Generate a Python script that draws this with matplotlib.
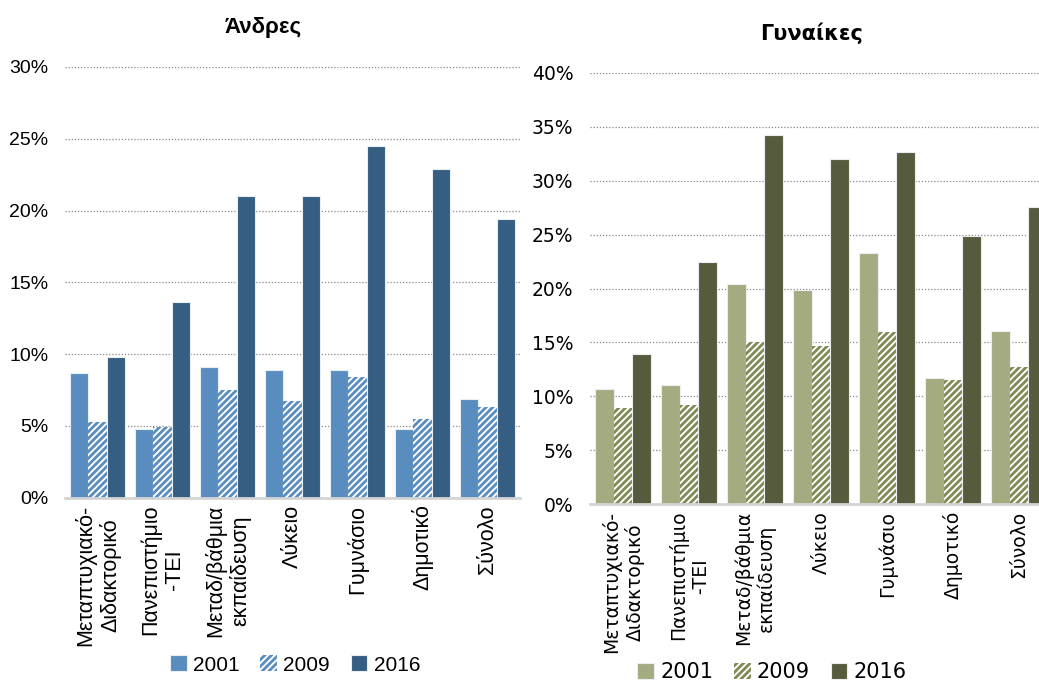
import numpy as np
import matplotlib
matplotlib.use("Agg")
import matplotlib.pyplot as plt
from matplotlib.ticker import PercentFormatter

categories = ["Μεταπτυχιακό-\nΔιδακτορικό", "Πανεπιστήμιο\n-ΤΕΙ", "Μεταδ/βάθμια\nεκπαίδευση",
              "Λύκειο", "Γυμνάσιο", "Δημοτικό", "Σύνολο"]
years = ["2001", "2009", "2016"]

men_2001 = [8.7, 4.8, 9.1, 8.9, 8.9, 4.8, 6.9]
men_2009 = [5.3, 4.9, 7.5, 6.7, 8.4, 5.5, 6.3]
men_2016 = [9.8, 13.6, 21.0, 21.0, 24.5, 22.9, 19.4]

women_2001 = [10.7, 11.0, 20.4, 19.9, 23.3, 11.7, 16.1]
women_2009 = [8.9, 9.2, 15.0, 14.7, 16.0, 11.5, 12.7]
women_2016 = [13.9, 22.5, 34.2, 32.0, 32.7, 24.9, 27.6]

plt.rcParams["hatch.linewidth"] = 2.0

W, H = 1039, 682
fig = plt.figure(figsize=(W / 100, H / 100), dpi=100)


def panel(rect, series, colors, ymax, title, title_pos, font, sizes, legend_pos):
    tick_fs, cat_fs, title_fs, leg_fs = sizes
    ax = fig.add_axes(rect)
    x = np.arange(len(categories))
    bw = 0.28
    for i, (vals, col) in enumerate(zip(series, colors)):
        if i == 1:
            ax.bar(x + (i - 1) * bw, vals, bw, facecolor="white", edgecolor=col,
                   hatch="/////", linewidth=0, label=years[i], zorder=2)
        else:
            ax.bar(x + (i - 1) * bw, vals, bw, color=col, edgecolor="#e8eef2",
                   linewidth=0.8, label=years[i], zorder=2)
    ax.set_xlim(-0.5, len(categories) - 0.5)
    ax.set_ylim(0, ymax)
    ax.set_yticks(np.arange(0, ymax + 0.1, 5))
    ax.yaxis.set_major_formatter(PercentFormatter(decimals=0))
    ax.grid(axis="y", linestyle=(0, (1, 1.5)), color="#888888", linewidth=0.9, zorder=0)
    for s in ["left", "right", "top"]:
        ax.spines[s].set_visible(False)
    ax.spines["bottom"].set_color("#d4d4d4")
    ax.spines["bottom"].set_linewidth(2)
    ax.tick_params(axis="y", length=0, labelsize=tick_fs, pad=12)
    ax.tick_params(axis="x", length=0, labelsize=cat_fs, pad=5)
    ax.set_xticks(x)
    ax.set_xticklabels(categories, rotation=90, va="top", ha="center",
                       multialignment="center")
    plt.setp(ax.get_xticklabels(), family=font, fontsize=cat_fs)
    plt.setp(ax.get_yticklabels(), family=font, fontsize=tick_fs)
    fig.text(title_pos[0], title_pos[1], title, ha="center", va="center",
             fontsize=title_fs, fontweight="bold", family=font)
    ax.legend(loc="center", bbox_to_anchor=legend_pos,
              bbox_transform=fig.transFigure, ncol=3, frameon=False,
              handlelength=0.8, handleheight=0.8, handletextpad=0.3,
              columnspacing=1.0, prop={"family": font, "size": leg_fs})
    return ax


panel([65 / W, 1 - 497.6 / H, 455 / W, 430.6 / H],
      [men_2001, men_2009, men_2016], ["#5a8dbf", "#5a8dbf", "#355e82"],
      30, "Άνδρες", (263 / W, 1 - 28 / H), "Liberation Sans", (14, 15.5, 16, 15),
      (295 / W, 1 - 665 / H))

panel([590 / W, 1 - 504 / H, 462 / W, 431 / H],
      [women_2001, women_2009, women_2016], ["#a5ab80", "#7f8a55", "#565b3d"],
      40, "Γυναίκες", (812 / W, 1 - 33 / H), "DejaVu Sans", (13.5, 13.5, 15, 15),
      (772 / W, 1 - 672 / H))

fig.savefig("out.png", dpi=100)
